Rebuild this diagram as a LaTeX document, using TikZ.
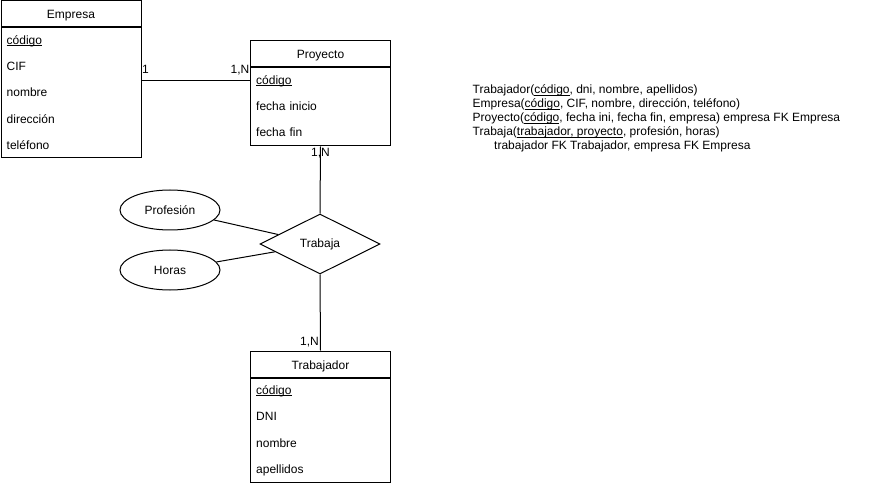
\documentclass[tikz,border=0pt]{standalone}
\usepackage{fontspec}
\setmainfont{Liberation Sans}
\usetikzlibrary{shapes.geometric}
\newsavebox\myulbox
\newcommand\myul[1]{\sbox\myulbox{#1}\rlap{\rule[-1.4pt]{\wd\myulbox}{0.8pt}}\usebox\myulbox}
\begin{document}
\begin{tikzpicture}[x=1pt,y=-1pt,
  every node/.style={font=\fontsize{12pt}{14pt}\selectfont, text=black},
  ln/.style={line width=1pt, draw=black},
  hdr/.style={ln, rectangle, anchor=north west, minimum width=140pt, minimum height=26pt,
    inner xsep=0pt, inner ysep=0pt, text width=140pt, align=center, text height=11pt, text depth=1pt},
  bodybox/.style={ln, rectangle, anchor=north west, minimum width=140pt, inner sep=0pt},
  rowtxt/.style={rectangle, anchor=north west, minimum height=26pt, inner xsep=6pt, inner ysep=0pt,
    text width=128pt, align=left, text height=9.5pt, text depth=2.5pt},
  rel/.style={ln, diamond, minimum width=120pt, minimum height=60pt, inner sep=0pt},
  attr/.style={ln, ellipse, minimum width=100pt, minimum height=40pt, inner sep=0pt},
  lbl/.style={inner sep=0pt},
  conn/.style={line width=1pt, draw=black}
]
\useasboundingbox (0,0) rectangle (871,484);

% Empresa
\node[hdr] (eH) at (0.5,0.5) {Empresa};
\node[bodybox, minimum height=130pt] (eB) at (eH.south west) {};
\node[rowtxt] (eR1) at (eH.south west) {\myul{código}};
\node[rowtxt] (eR2) at (eR1.south west) {CIF};
\node[rowtxt] (eR3) at (eR2.south west) {nombre};
\node[rowtxt] (eR4) at (eR3.south west) {dirección};
\node[rowtxt] (eR5) at (eR4.south west) {teléfono};

% Proyecto
\node[hdr] (pH) at (250,40.5) {Proyecto};
\node[bodybox, minimum height=78pt] (pB) at (pH.south west) {};
\node[rowtxt] (pR1) at (pH.south west) {\myul{código}};
\node[rowtxt] (pR2) at (pR1.south west) {fecha inicio};
\node[rowtxt] (pR3) at (pR2.south west) {fecha fin};

% Trabajador
\node[hdr] (tH) at (250,350.5) {Trabajador};
\node[bodybox, minimum height=104pt] (tB) at (tH.south west) {};
\node[rowtxt] (tR1) at (tH.south west) {\myul{código}};
\node[rowtxt] (tR2) at (tR1.south west) {DNI};
\node[rowtxt] (tR3) at (tR2.south west) {nombre};
\node[rowtxt] (tR4) at (tR3.south west) {apellidos};

% Relationship and attributes
\node[rel] (tr) at (320,244) {Trabaja};
\node[attr] (prof) at (170,210) {Profesión};
\node[attr] (hor) at (170,270) {Horas};

% Connectors
\draw[conn] (pR1.west -| eB.east) -- (pR1.west);
\draw[conn] (pB.south) -- (tr.north);
\draw[conn] (tr.south) -- (tH.north);
\draw[conn] (prof) -- (tr);
\draw[conn] (hor) -- (tr);

% Cardinality labels
\node[lbl, anchor=base west] (c1) at (142,74) {1};
\node[lbl, anchor=base east] (c2) at (249.5,74) {1,N};
\node[lbl, anchor=base] (c3) at (320.5,156.5) {1,N};
\node[lbl, anchor=base east] (c4) at (319,345) {1,N};

% Relational schema
\node[lbl, anchor=base west] (s1) at (472.5,94) {Trabajador(\myul{código}, dni, nombre, apellidos)};
\node[lbl, anchor=base west] (s2) at (472.5,108) {Empresa(\myul{código}, CIF, nombre, dirección, teléfono)};
\node[lbl, anchor=base west] (s3) at (472.5,122) {Proyecto(\myul{código}, fecha ini, fecha fin, empresa) empresa FK Empresa};
\node[lbl, anchor=base west] (s4) at (472.5,136) {Trabaja(\myul{trabajador, proyecto}, profesión, horas)};
\node[lbl, anchor=base west] (s5) at (494,150) {trabajador FK Trabajador, empresa FK Empresa};
\end{tikzpicture}
\end{document}
